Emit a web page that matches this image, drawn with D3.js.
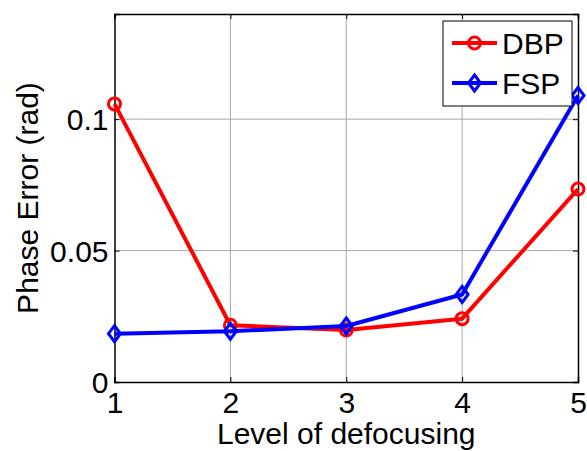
<!DOCTYPE html>
<head>
  <meta charset="utf-8">
  <script src="https://d3js.org/d3.v7.min.js"></script>
  <style>
    body { margin:0; background:#fff; }
    text { font-family: Arial, "Liberation Sans", sans-serif; fill:#000; }
    .grid line { stroke:#a8a8a8; stroke-width:1; }
  </style>
</head>
<body>
  <div class="chart"></div>
  <script>
    const levels = [1, 2, 3, 4, 5];
    const dbp = [0.1058, 0.0216, 0.0198, 0.0241, 0.0734];
    const fsp = [0.0184, 0.0193, 0.0213, 0.0333, 0.1090];
    const yTicks = [0, 0.05, 0.1];
    const yTickLabels = ['0', '0.05', '0.1'];

    const W = 587, H = 451;
    const margin = { top: 14, right: 9, bottom: 69, left: 114.5 };
    const width = W - margin.left - margin.right;
    const height = H - margin.top - margin.bottom;

    const svg = d3.select('.chart').append('svg')
      .attr('width', W).attr('height', H);
    const g = svg.append('g')
      .attr('transform', `translate(${margin.left},${margin.top})`);

    const x = d3.scaleLinear().domain([1, 5]).range([0, width]);
    const y = d3.scaleLinear().domain([0, 0.14]).range([height, 0]);

    // grid
    const grid = g.append('g').attr('class', 'grid');
    grid.selectAll('.gx').data(levels.slice(1, -1)).enter().append('line')
      .attr('x1', d => x(d)).attr('x2', d => x(d))
      .attr('y1', 0).attr('y2', height);
    grid.selectAll('.gy').data(yTicks.slice(1)).enter().append('line')
      .attr('x1', 0).attr('x2', width)
      .attr('y1', d => y(d)).attr('y2', d => y(d));

    // axes with inward ticks
    const fs = 30;
    const xAxis = d3.axisBottom(x).tickValues(levels).tickSize(-5)
      .tickFormat(d3.format('d'));
    const xg = g.append('g').attr('transform', `translate(0,${height})`).call(xAxis);
    const yAxis = d3.axisLeft(y).tickValues(yTicks).tickSize(-5)
      .tickFormat((d, i) => yTickLabels[i]);
    const yg = g.append('g').call(yAxis);
    g.append('g').call(d3.axisTop(x).tickValues(levels).tickSize(-5).tickFormat(''));
    g.append('g').attr('transform', `translate(${width},0)`)
      .call(d3.axisRight(y).tickValues(yTicks).tickSize(-5).tickFormat(''));

    g.selectAll('.domain').attr('stroke', '#000').attr('stroke-width', 1.5);
    g.selectAll('.tick line').attr('stroke', '#000');
    xg.selectAll('text').style('font-size', fs + 'px')
      .attr('dy', '0.71em').attr('y', 10).attr('fill', '#000');
    yg.selectAll('text').style('font-size', fs + 'px').attr('fill', '#000')
      .attr('dy', '0.36em').attr('x', -6);

    // lines
    const line = d3.line().x((d, i) => x(levels[i])).y(d => y(d));
    const series = [
      { name: 'DBP', values: dbp, color: '#ff0000', marker: 'circle' },
      { name: 'FSP', values: fsp, color: '#0000ff', marker: 'diamond' }
    ];

    function drawMarker(sel, s, cx, cy) {
      if (s.marker === 'circle') {
        sel.append('circle').attr('cx', cx).attr('cy', cy).attr('r', 6)
          .attr('fill', 'none').attr('stroke', s.color).attr('stroke-width', 3);
      } else {
        const r = 8;
        sel.append('path')
          .attr('d', `M${cx},${cy - r}L${cx + r * 0.75},${cy}L${cx},${cy + r}L${cx - r * 0.75},${cy}Z`)
          .attr('fill', 'none').attr('stroke', s.color).attr('stroke-width', 3);
      }
    }

    series.forEach(s => {
      g.append('path').datum(s.values).attr('d', line)
        .attr('fill', 'none').attr('stroke', s.color).attr('stroke-width', 4)
        .attr('stroke-linejoin', 'round');
      const mg = g.append('g');
      s.values.forEach((v, i) => drawMarker(mg, s, x(levels[i]), y(v)));
    });

    // axis labels
    svg.append('text').attr('x', margin.left + width / 2).attr('y', 444)
      .attr('text-anchor', 'middle').style('font-size', fs + 'px')
      .text('Level of defocusing');
    svg.append('text').attr('transform', 'translate(38,198) rotate(-90)')
      .attr('text-anchor', 'middle').style('font-size', fs + 'px')
      .text('Phase Error (rad)');

    // legend
    const lg = svg.append('g').attr('transform', 'translate(443,21)');
    lg.append('rect').attr('width', 129).attr('height', 85)
      .attr('fill', '#fff').attr('stroke', '#000').attr('stroke-width', 1);
    series.forEach((s, i) => {
      const cy = 22 + i * 40;
      lg.append('line').attr('x1', 9).attr('x2', 54).attr('y1', cy).attr('y2', cy)
        .attr('stroke', s.color).attr('stroke-width', 4);
      drawMarker(lg, s, 31.5, cy);
      lg.append('text').attr('x', 59).attr('y', cy).attr('dy', '0.36em')
        .style('font-size', fs + 'px').text(s.name);
    });
  </script>
</body>
